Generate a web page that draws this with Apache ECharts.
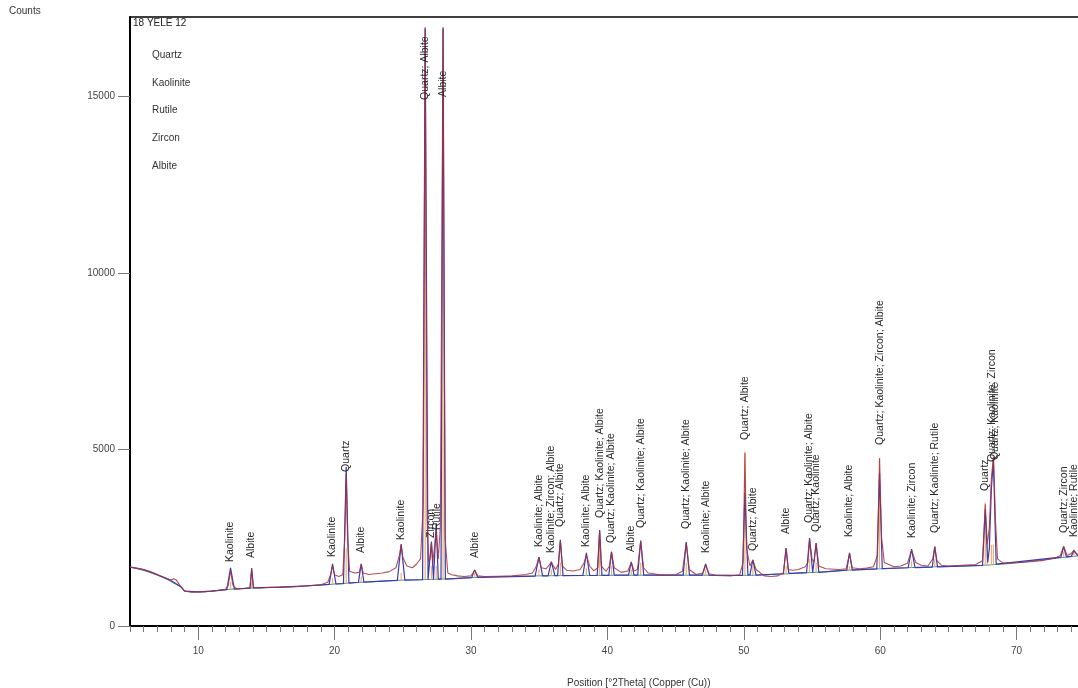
<!DOCTYPE html>
<html><head><meta charset="utf-8">
<script src="https://cdn.jsdelivr.net/npm/echarts@6/dist/echarts.min.js"></script>
<style>html,body{margin:0;padding:0;background:#fff}#c{width:1078px;height:688px}</style>
</head><body><div id="c"></div>
<script>
// ---- data ----
const sampleName = '18 YELE 12';
const yTitle = 'Counts';
const xTitle = 'Position [°2Theta] (Copper (Cu))';
const phases = ['Quartz', 'Kaolinite', 'Rutile', 'Zircon', 'Albite'];
const xTicks = [10, 20, 30, 40, 50, 60, 70];
const yTicks = [0, 5000, 10000, 15000];

// observed profile [2theta, counts]
const observed = [
[5.0,1670],[5.5,1640],[6.0,1600],[6.5,1540],[7.0,1460],[7.5,1380],[8.0,1300],[8.2,1340],[8.4,1300],[8.7,1130],[9.0,990],[9.5,960],[10,965],[10.5,975],[11,990],[11.5,1010],[12.0,1040],[12.2,1150],[12.37,1560],[12.55,1150],[12.8,1060],[13.5,1070],[13.8,1090],[13.92,1600],[14.05,1090],[14.5,1080],[15,1090],[16,1100],[17,1110],[18,1140],[19,1170],[19.5,1240],[19.7,1450],[19.85,1700],[20.0,1450],[20.3,1400],[20.6,1450],[20.75,2500],[20.85,4300],[20.95,2500],[21.1,1550],[21.5,1500],[21.8,1520],[21.95,1750],[22.1,1500],[22.5,1460],[23.0,1480],[23.5,1500],[24.0,1540],[24.5,1650],[24.75,2000],[24.88,2300],[25.0,1950],[25.3,1700],[25.7,1650],[26.0,1750],[26.3,1900],[26.5,3500],[26.64,16900],[26.78,3000],[26.9,1800],[27.0,1900],[27.1,2350],[27.2,1800],[27.3,1750],[27.45,2700],[27.6,1900],[27.75,2800],[27.95,16900],[28.1,2500],[28.3,1500],[28.6,1450],[29,1420],[29.5,1400],[30,1420],[30.27,1580],[30.5,1420],[31,1400],[32,1410],[33,1420],[34,1460],[34.5,1500],[34.8,1700],[34.98,1950],[35.15,1650],[35.5,1620],[35.89,1800],[36.2,1600],[36.4,1750],[36.55,2400],[36.7,1700],[37,1580],[37.5,1560],[38,1600],[38.3,1800],[38.46,2000],[38.7,1700],[39.0,1560],[39.3,1650],[39.43,2700],[39.55,1700],[39.9,1550],[40.15,1700],[40.3,2100],[40.5,1650],[41,1520],[41.5,1560],[41.75,1800],[41.95,1560],[42.2,1600],[42.44,2400],[42.65,1650],[43,1500],[44,1440],[45,1450],[45.5,1550],[45.78,2350],[46.0,1600],[46.5,1460],[47.0,1500],[47.2,1720],[47.45,1480],[48,1430],[49,1420],[49.7,1450],[49.95,1800],[50.08,4900],[50.2,2200],[50.45,1700],[50.66,1870],[50.9,1600],[51.5,1420],[52,1400],[52.5,1420],[52.9,1500],[53.1,2200],[53.25,1600],[53.6,1580],[54,1600],[54.5,1680],[54.7,1800],[54.82,2450],[55.0,1900],[55.15,1800],[55.3,2350],[55.5,1700],[56,1620],[57,1600],[57.5,1620],[57.75,2050],[57.95,1650],[58.5,1620],[59,1640],[59.5,1680],[59.8,2000],[59.95,4750],[60.1,2500],[60.3,1800],[61,1680],[61.5,1700],[62.0,1780],[62.3,2150],[62.6,1800],[63,1720],[63.5,1700],[63.85,1900],[64.0,2250],[64.15,1850],[64.5,1720],[65,1700],[66,1720],[67,1740],[67.5,1850],[67.7,3450],[67.85,2300],[68.0,2800],[68.15,4200],[68.3,4800],[68.45,3000],[68.6,1900],[69,1780],[70,1790],[71,1820],[72,1860],[72.8,1920],[73.2,2000],[73.45,2250],[73.7,2000],[74.0,2050],[74.2,2150],[74.5,1990]
];

// calculated profile [2theta, counts]
const calculated = [
[5,1670],[6,1600],[7,1450],[8,1290],[8.7,1120],[9,990],[10,965],[11,990],[12.1,1030],[12.37,1650],[12.65,1045],[13.8,1075],[13.92,1640],[14.05,1080],[16,1100],[18,1140],[19.6,1180],[19.85,1760],[20.1,1190],[20.65,1200],[20.85,4500],[21.05,1215],[21.75,1240],[21.95,1760],[22.15,1245],[24.6,1290],[24.88,2320],[25.15,1300],[26.45,1310],[26.64,16950],[26.85,1320],[26.98,1320],[27.1,2390],[27.25,1320],[27.33,1320],[27.45,2920],[27.6,1325],[27.8,1325],[27.95,16950],[28.12,1330],[30.05,1370],[30.27,1590],[30.5,1375],[34.7,1415],[34.98,1950],[35.25,1420],[35.65,1420],[35.89,1820],[36.15,1425],[36.35,1425],[36.55,2440],[36.75,1425],[38.2,1430],[38.46,2070],[38.7,1430],[39.25,1435],[39.43,2720],[39.6,1435],[40.1,1435],[40.3,2100],[40.5,1440],[41.55,1440],[41.75,1820],[41.95,1440],[42.22,1440],[42.44,2420],[42.66,1440],[45.55,1440],[45.78,2380],[46.02,1440],[46.95,1440],[47.2,1760],[47.45,1440],[49.9,1430],[50.08,3770],[50.3,1450],[50.45,1450],[50.66,1870],[50.9,1440],[52.9,1480],[53.1,2210],[53.3,1490],[54.6,1510],[54.82,2490],[55.05,1515],[55.12,1515],[55.3,2350],[55.5,1520],[57.55,1580],[57.75,2070],[57.95,1585],[59.75,1620],[59.95,4330],[60.15,1625],[62.05,1650],[62.3,2180],[62.55,1655],[63.82,1670],[64.0,2250],[64.2,1675],[67.5,1720],[67.7,3300],[67.88,1800],[68.0,2200],[68.15,3900],[68.3,4700],[68.5,1750],[73.25,1950],[73.45,2250],[73.65,1960],[74.0,1970],[74.2,2130],[74.5,1985]
];

// background [2theta, counts]
const background = [
[5,1670],[7,1440],[8.7,1110],[9.2,975],[10,965],[12,1030],[14,1075],[17,1110],[19,1160],[21,1215],[23,1260],[25,1300],[28,1330],[30,1370],[33,1405],[36,1425],[40,1435],[45,1440],[50,1435],[52,1460],[55,1515],[58,1590],[60,1620],[63,1665],[66,1700],[68,1730],[70,1790],[72,1880],[74.5,1985]
];

// reference sticks [2theta, base, top]
const sticks = [
[12.37,1030,1250],[13.92,1075,1250],[19.85,1180,1350],[20.85,1200,2200],[21.95,1240,1400],[24.88,1290,1500],[26.64,1310,16950],[27.1,1320,1700],[27.45,1320,1700],[27.95,1325,16950],[30.27,1370,1500],[34.98,1415,1600],[35.89,1420,1600],[36.55,1425,1800],[38.46,1430,1650],[39.43,1435,2600],[40.3,1435,1700],[41.75,1440,1600],[42.44,1440,1800],[45.78,1440,1800],[47.2,1440,1600],[50.08,1430,4940],[50.66,1445,1700],[53.1,1480,1700],[54.82,1510,1900],[55.3,1515,1800],[57.75,1580,1700],[59.95,1620,4760],[62.3,1650,1850],[64.0,1670,1900],[67.7,1720,3500],[67.85,1720,2300],[68.15,1730,2300],[68.3,1730,2300],[73.45,1950,2100],[74.2,1970,2100]
];

// peak labels
const labelPos = [12.37,13.91,19.85,20.87,21.95,24.88,26.64,27.1,27.51,27.95,30.27,34.98,35.89,36.55,38.46,39.43,40.29,41.75,42.44,45.78,47.2,50.08,50.66,53.11,54.82,55.31,57.75,60.0,62.31,64.05,67.71,68.2,68.4,73.5,74.23];
const labelAt  = [1813,1926,1955,4363,2068,2436,14900,2493,2720,14987,1926,2238,2068,2805,2238,3060,2351,2096,2776,2748,2068,5270,2125,2606,2918,2663,2521,5128,2493,2635,3825,4646,4700,2635,2521];
const labelText = ['Kaolinite','Albite','Kaolinite','Quartz','Albite','Kaolinite','Quartz; Albite','Zircon','Rutile','Albite','Albite','Kaolinite; Albite','Kaolinite; Zircon; Albite','Quartz; Albite','Kaolinite; Albite','Quartz; Kaolinite; Albite','Quartz; Kaolinite; Albite','Albite','Quartz; Kaolinite; Albite','Quartz; Kaolinite; Albite','Kaolinite; Albite','Quartz; Albite','Quartz; Albite','Albite','Quartz; Kaolinite; Albite','Quartz; Kaolinite','Kaolinite; Albite','Quartz; Kaolinite; Zircon; Albite','Kaolinite; Zircon','Quartz; Kaolinite; Rutile','Quartz','Quartz; Kaolinite; Zircon','Quartz; Kaolinite','Quartz; Zircon','Kaolinite; Rutile'];

// ---- chart ----
const FONT = '"Liberation Sans", Arial, sans-serif';
const chart = echarts.init(document.getElementById('c'), null, {renderer: 'canvas'});
const gridRect = {left: 130, right: 0, top: 17, bottom: 62};
const XMIN = 5, XMAX = 74.5, YMAX = 17250;

const labelData = labelPos.map((p, i) => [p, labelAt[i]]);

const graphics = [
  {type: 'text', left: 9, top: 6, style: {text: yTitle, font: '10px ' + FONT, fill: '#333'}},
  {type: 'text', left: 133, top: 18, style: {text: sampleName, font: '10px ' + FONT, fill: '#222'}},
  {type: 'text', left: 567, top: 678, style: {text: xTitle, font: '10px ' + FONT, fill: '#333'}}
];
phases.forEach((ph, i) => {
  graphics.push({type: 'text', left: 152, top: 50 + i * 27.8, style: {text: ph, font: '10px ' + FONT, fill: '#333'}});
});

chart.setOption({
  animation: false,
  backgroundColor: '#fff',
  graphic: graphics,
  grid: [
    Object.assign({}, gridRect),
    Object.assign({}, gridRect),
    Object.assign({}, gridRect)
  ],
  xAxis: [
    {type: 'value', gridIndex: 0, min: XMIN, max: XMAX, interval: 1,
     axisLine: {show: true, onZero: false, lineStyle: {color: '#000', width: 2}},
     axisTick: {show: true, length: 6, lineStyle: {color: '#777'}},
     axisLabel: {customValues: xTicks, margin: 20, color: '#444', fontFamily: FONT, fontSize: 10},
     splitLine: {show: false}},
    {type: 'value', gridIndex: 1, min: XMIN, max: XMAX,
     axisLine: {show: false, onZero: false},
     axisTick: {show: true, customValues: xTicks, length: 14, lineStyle: {color: '#777'}},
     axisLabel: {show: false}, splitLine: {show: false}},
    {type: 'value', gridIndex: 2, min: XMIN, max: XMAX, position: 'top',
     axisLine: {show: true, onZero: false, lineStyle: {color: '#000', width: 1.5}},
     axisTick: {show: false}, axisLabel: {show: false}, splitLine: {show: false}}
  ],
  yAxis: [
    {type: 'value', gridIndex: 0, min: 0, max: YMAX, interval: 5000,
     axisLine: {show: true, onZero: false, lineStyle: {color: '#000', width: 2}},
     axisTick: {show: true, customValues: yTicks, length: 12, lineStyle: {color: '#777'}},
     axisLabel: {customValues: yTicks, margin: 15, color: '#444', fontFamily: FONT, fontSize: 10,
                 formatter: function (v) { return String(v); }},
     splitLine: {show: false}},
    {type: 'value', gridIndex: 1, min: 0, max: YMAX, show: false},
    {type: 'value', gridIndex: 2, min: 0, max: YMAX, show: false}
  ],
  series: [
    {type: 'line', name: 'Background', data: background, showSymbol: false, smooth: true,
     lineStyle: {color: '#3f8f88', width: 1}, z: 2},
    {type: 'custom', name: 'Sticks', data: sticks, z: 3,
     renderItem: function (params, api) {
       const a = api.coord([api.value(0), api.value(1)]);
       const b = api.coord([api.value(0), api.value(2)]);
       return {type: 'line', shape: {x1: a[0], y1: a[1], x2: b[0], y2: b[1]},
               style: {stroke: '#eab36a', lineWidth: 1.2}};
     }},
    {type: 'line', name: 'Calculated', data: calculated, showSymbol: false,
     lineStyle: {color: '#3a3ab5', width: 1.2}, z: 4},
    {type: 'line', name: 'Observed', data: observed, showSymbol: false,
     lineStyle: {color: '#a8303a', width: 1.1, opacity: 0.85}, z: 5},
    {type: 'custom', name: 'Peak labels', data: labelData, z: 6, clip: false,
     renderItem: function (params, api) {
       const p = api.coord([api.value(0), api.value(1)]);
       return {type: 'text', x: p[0], y: p[1], rotation: Math.PI / 2,
               style: {text: labelText[params.dataIndex], font: '10.5px ' + FONT,
                       fill: '#2a2a2a', align: 'left', verticalAlign: 'middle'}};
     }}
  ]
});
</script>
</body></html>
